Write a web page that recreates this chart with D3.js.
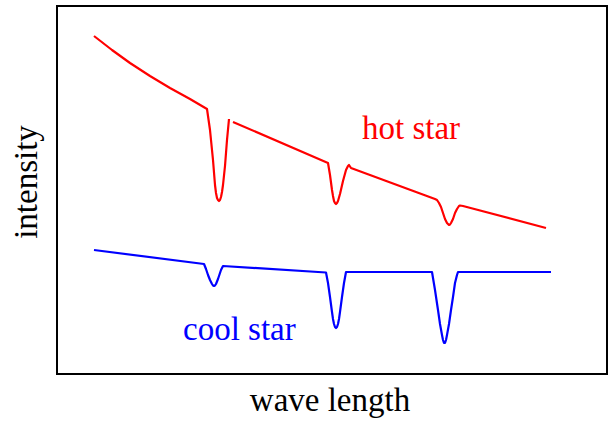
<!DOCTYPE html>
<html>
<head>
<meta charset="utf-8">
<script src="https://cdn.jsdelivr.net/npm/d3@7"></script>
<style>
  html, body { margin: 0; padding: 0; background: #fff; }
  svg { display: block; }
  text { font-family: "Liberation Serif", "Times New Roman", serif; }
</style>
</head>
<body>
<svg id="chart" width="608" height="423"></svg>
<script>
// Data: [wavelength, intensity] in arbitrary units
const hotStarBlue = [ // hot star, short-wavelength part incl. first absorption line
  [37,338],[55,324],[73,311],[93,298],[113,286],[133,275],[150,265],
  [153,244],[156,214],[158,189],[159,181],[160,176],[161,174],[162,173],[163,174],[164,177],[165,182],[166,189],[168,208],[170,234],[172,255]
];
const hotStarRed = [ // hot star, continuation with two more absorption lines
  [176,252],[271,211],
  [273,199],[275,184],[276,178],[277,173],[278,171],[279,170],[280,171],[281,173],[283,180],[286,193],[289,204],[291,208],[292,209],[294,206],
  [378,175],
  [380,174],[382,171],[384,167],[386,161],[388,155],[390,151],[391,150],[392,149],[393,149.5],[394,151],[396,155],[398,161],[400,165],[402,168],[403,168.5],[406,168],
  [489,146]
];
const coolStar = [
  [37,124],[147,110],
  [149,105],[151,99],[153,94],[155,90],[156,88.5],[157,88],[158,88.5],[159,90],[161,95],[162,98],[164,104],[166,108],
  [269,101.5],
  [271,91],[273,77],[275,62],[276,55],[277,50],[278,47],[279,46],[280,47],[281,50],[282,55],[283,62],[285,77],[287,91],[289,102],
  [375,102],
  [378,84],[381,64],[383,50],[385,39],[386,34],[387,31],[388,31],[389,34],[390,39],[392,50],[394,64],[396,77],[398,91],[400,99],[401,102],
  [494,102]
];
const labels = { hot: "hot star", cool: "cool star", x: "wave length", y: "intensity" };

const svg = d3.select("#chart");
const box = { left: 57, top: 6, right: 607, bottom: 374 };

const x = d3.scaleLinear().domain([0, 550]).range([box.left, box.right]);
const y = d3.scaleLinear().domain([0, 368]).range([box.bottom, box.top]);

svg.append("rect")
  .attr("x", box.left).attr("y", box.top)
  .attr("width", box.right - box.left).attr("height", box.bottom - box.top)
  .attr("fill", "none").attr("stroke", "#000").attr("stroke-width", 2);

const line = d3.line().x(d => x(d[0])).y(d => y(d[1])).curve(d3.curveLinear);

[[hotStarBlue, "#ff0000"], [hotStarRed, "#ff0000"], [coolStar, "#0000ff"]].forEach(([data, col]) => {
  svg.append("path").datum(data)
    .attr("d", line)
    .attr("fill", "none")
    .attr("stroke", col)
    .attr("stroke-width", 2.2)
    .attr("stroke-linejoin", "round");
});

svg.append("text").attr("x", 362).attr("y", 139)
  .attr("font-size", 33).attr("fill", "#ff0000").text(labels.hot);
svg.append("text").attr("x", 183).attr("y", 340)
  .attr("font-size", 33).attr("fill", "#0000ff").text(labels.cool);
svg.append("text").attr("x", 330).attr("y", 411)
  .attr("text-anchor", "middle").attr("font-size", 33).attr("fill", "#000").text(labels.x);
svg.append("text").attr("transform", "translate(37,182) rotate(-90)")
  .attr("text-anchor", "middle").attr("font-size", 33).attr("fill", "#000").text(labels.y);
</script>
</body>
</html>
